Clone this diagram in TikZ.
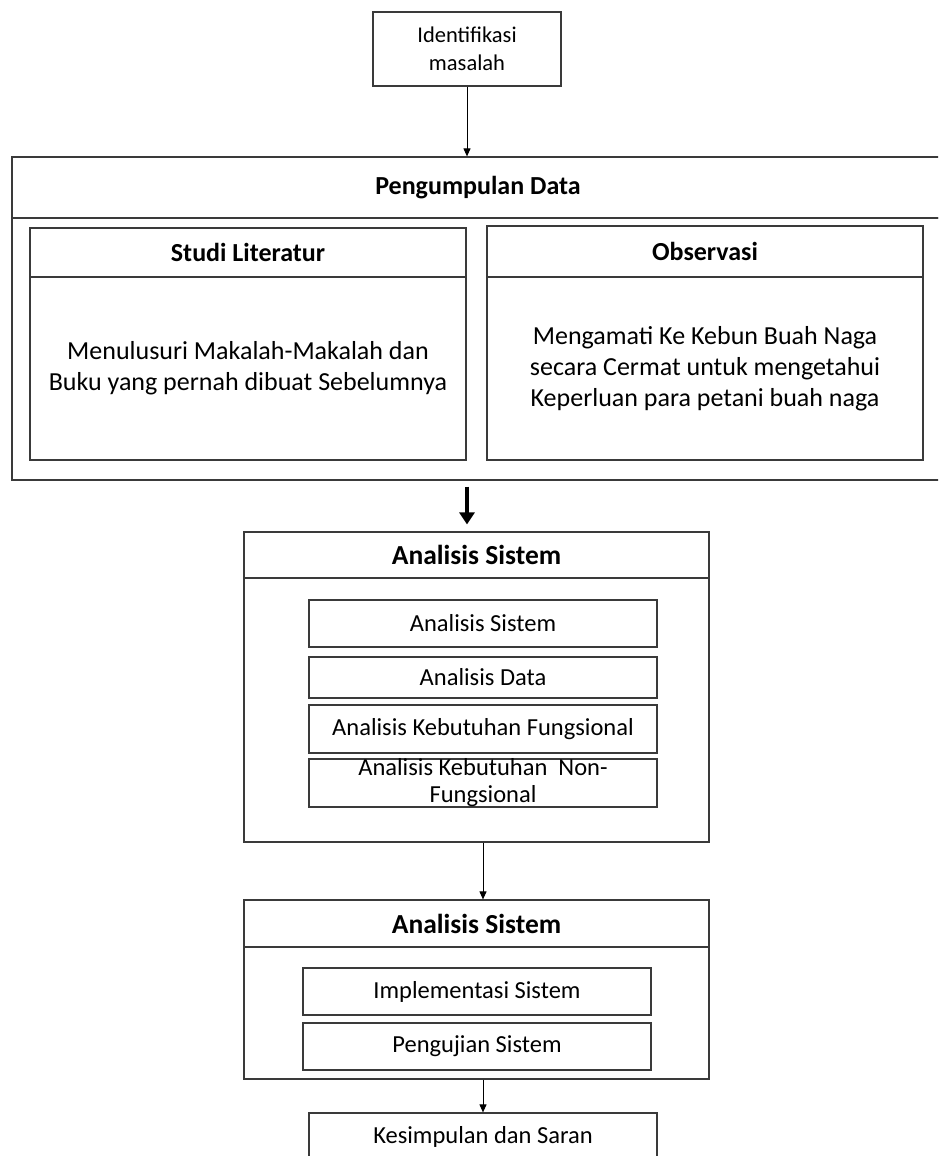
\documentclass[tikz,border=0pt]{standalone}
\usepackage{fontspec}
\setmainfont{Carlito}
\usetikzlibrary{arrows.meta}

\begin{document}
\begin{tikzpicture}[x=1pt, y=-1pt,
    box/.style={draw=borderColour, line width=1.2pt, rectangle, inner sep=0pt, align=center},
    headText/.style={font=\fontsize{26}{31}\selectfont\bfseries},
    stageText/.style={font=\fontsize{27.5}{31}\selectfont\bfseries},
    bodyText/.style={font=\fontsize{26}{31}\selectfont},
    itemText/.style={font=\fontsize{24.5}{27}\selectfont},
    flow/.style={draw=black, line width=1pt, -{Triangle[length=8pt, width=7pt]}},
    flowThick/.style={draw=black, line width=3.5pt, -{Triangle[length=12pt, width=15pt]}}]

    % Define colours
    \definecolor{borderColour}{HTML}{3A3A3A}

    % Fix the page to the reference size
    \useasboundingbox (0,0) rectangle (938,1156);
    \clip (0,0) rectangle (938,1156);

    % Identification of the problem
    \node[box, minimum width=188pt, minimum height=74pt, font=\fontsize{22.5}{28}\selectfont] (ident) at (467,49) {Identifikasi\\masalah};

    % Data collection
    \node[box, headText, minimum width=932pt, minimum height=61pt] (pdHead) at (478,187.5) {Pengumpulan Data};
    \node[box, minimum width=932pt, minimum height=262pt] (pdBody) at (478,349) {};

    \node[box, headText, minimum width=436pt, minimum height=49pt] (slHead) at (248,252.5) {Studi Literatur};
    \node[box, bodyText, minimum width=436pt, minimum height=183pt] (slBody) at (248,368.5) {Menulusuri Makalah-Makalah dan\\Buku yang pernah dibuat Sebelumnya};

    \node[box, headText, minimum width=436pt, minimum height=51pt] (obHead) at (705,251.5) {Observasi};
    \node[box, bodyText, minimum width=436pt, minimum height=183pt] (obBody) at (705,368.5) {Mengamati Ke Kebun Buah Naga\\secara Cermat untuk mengetahui\\Keperluan para petani buah naga};

    % System analysis
    \node[box, stageText, minimum width=465pt, minimum height=46pt] (asHead) at (476.5,555) {Analisis Sistem};
    \node[box, minimum width=465pt, minimum height=264pt] (asBody) at (476.5,710) {};

    \node[box, itemText, minimum width=348pt, minimum height=47pt] (asA) at (483,623.5) {Analisis Sistem};
    \node[box, itemText, minimum width=348pt, minimum height=41pt] (asB) at (483,677.5) {Analisis Data};
    \node[box, itemText, minimum width=348pt, minimum height=48pt] (asC) at (483,729) {Analisis Kebutuhan Fungsional};
    \node[box, minimum width=348pt, minimum height=48pt] (asD) at (483,783) {};
    \node[itemText, align=center, inner sep=0pt] (asDText) at (asD) {Analisis Kebutuhan~~Non-\\Fungsional};

    % Implementation and testing
    \node[box, stageText, minimum width=465pt, minimum height=47pt] (isHead) at (476.5,923.5) {Analisis Sistem};
    \node[box, minimum width=465pt, minimum height=132pt] (isBody) at (476.5,1013) {};

    \node[box, itemText, minimum width=348pt, minimum height=47pt] (isA) at (477,991.5) {Implementasi Sistem};
    \node[box, itemText, minimum width=348pt, minimum height=47pt] (isB) at (477,1046.5) {Pengujian Sistem};

    % Conclusion
    \node[box, itemText, minimum width=348pt, minimum height=48pt] (ks) at (483,1137) {Kesimpulan dan Saran};

    % Draw arrows
    \draw[flow] (ident.south) -- (pdHead.north -| ident.south);
    \draw[flowThick, shorten <=6pt, shorten >=7pt] (pdBody.south -| ident.south) -- (asHead.north -| ident.south);
    \draw[flow] (asBody.south -| asA.south) -- (isHead.north -| asA.south);
    \draw[flow] (isBody.south -| ks.north) -- (ks.north);

\end{tikzpicture}
\end{document}
